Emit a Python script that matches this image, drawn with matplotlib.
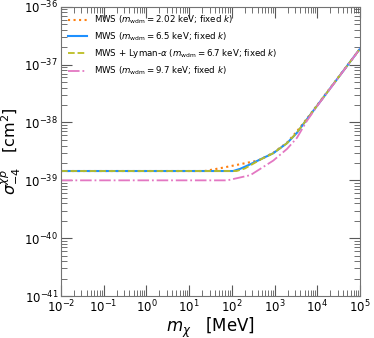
import numpy as np
import matplotlib
matplotlib.use('Agg')
import matplotlib.pyplot as plt

# masses in MeV, cross sections in cm^2
m_202 = [1e-2, 23, 60, 155, 410, 930, 1950, 3300, 5600, 1e5]
s_202 = [1.45e-39, 1.45e-39, 1.65e-39, 1.9e-39, 2.2e-39, 3.0e-39, 4.5e-39, 7.0e-39, 1.15e-38, 1.9e-37]

m_65 = [1e-2, 107, 155, 250, 460, 930, 1950, 3300, 5600, 1e5]
s_65 = [1.45e-39, 1.45e-39, 1.58e-39, 1.85e-39, 2.3e-39, 2.95e-39, 4.4e-39, 6.6e-39, 1.12e-38, 1.9e-37]

m_67 = [1e-2, 129, 200, 300, 500, 930, 1950, 3300, 5600, 1e5]
s_67 = [1.45e-39, 1.45e-39, 1.6e-39, 1.9e-39, 2.35e-39, 2.95e-39, 4.4e-39, 6.7e-39, 1.12e-38, 1.9e-37]

m_97 = [1e-2, 78, 270, 930, 1950, 3300, 5600, 1e4, 1e5]
s_97 = [1.0e-39, 1.0e-39, 1.23e-39, 2.2e-39, 3.5e-39, 5.4e-39, 1.05e-38, 1.95e-38, 1.9e-37]

labels = [r'MWS ($m_{\rm wdm} = 2.02$ keV; fixed $k$)',
          r'MWS ($m_{\rm wdm} = 6.5$ keV; fixed $k$)',
          r'MWS + Lyman-$\alpha$ ($m_{\rm wdm} = 6.7$ keV; fixed $k$)',
          r'MWS ($m_{\rm wdm} = 9.7$ keV; fixed $k$)']

fig = plt.figure(figsize=(3.74, 3.38), dpi=100)
ax = fig.add_axes([0.163, 0.124, 0.80, 0.856])

ax.plot(m_202, s_202, color='#ff7f0e', ls=':', lw=1.5, label=labels[0])
ax.plot(m_65, s_65, color='#1e90ff', ls='-', lw=1.5, label=labels[1])
ax.plot(m_67, s_67, color='#bcbd22', ls='--', lw=1.3, label=labels[2])
ax.plot(m_97, s_97, color='#e377c2', ls='-.', lw=1.3, label=labels[3])

ax.set_xscale('log')
ax.set_yscale('log')
ax.set_xlim(1e-2, 1e5)
ax.set_ylim(1e-41, 1e-36)
ax.xaxis.set_major_locator(matplotlib.ticker.LogLocator(base=10, numticks=20))
ax.xaxis.set_minor_locator(matplotlib.ticker.LogLocator(base=10, subs=np.arange(2, 10), numticks=50))
ax.yaxis.set_major_locator(matplotlib.ticker.LogLocator(base=10, numticks=20))
ax.yaxis.set_minor_locator(matplotlib.ticker.LogLocator(base=10, subs=np.arange(2, 10), numticks=50))

ax.tick_params(which='both', direction='in', top=True, right=True, colors='0.35', labelcolor='black', labelsize=8.5)
ax.tick_params(which='major', length=8, width=0.8, pad=2)
ax.tick_params(which='minor', length=4, width=0.6)
for sp in ax.spines.values():
    sp.set_color('0.45')

ax.set_xlabel(r'$m_\chi$   [MeV]', fontsize=12, labelpad=0)
ax.set_ylabel(r'$\sigma^{\chi p}_{-4}$   [cm$^2$]', fontsize=11.5, labelpad=1)

ax.legend(loc='upper left', frameon=False, fontsize=6.2, handlelength=2.2, labelspacing=0.5, borderaxespad=0.4)

fig.savefig('out.png', dpi=100)
